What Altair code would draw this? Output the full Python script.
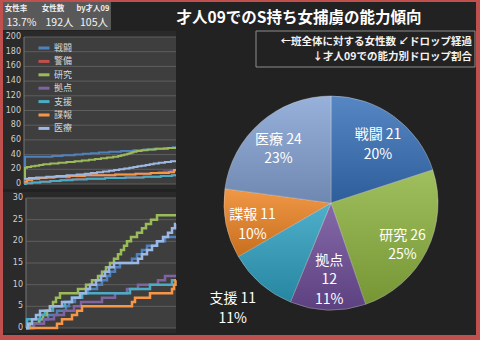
import altair as alt
import pandas as pd

JP = "Noto Sans CJK JP"

# ---------------- data ----------------
SERIES = ["戦闘", "警備", "研究", "拠点", "支援", "諜報", "医療"]
LINE_COLORS = ["#4f81bd", "#c0504d", "#9bbb59", "#8064a2", "#4bacc6", "#f79646", "#9db8e2"]

# upper panel: female count in the whole class (step points [x, count])
TOP_SENTOU = [[0, 0], [1, 37], [28, 38], [38, 39], [50, 40], [58, 41], [66, 42], [74, 43], [84, 44],
              [96, 45], [108, 46], [118, 47], [128, 48], [138, 49], [147, 50], [150, 50]]
TOP_KEIBI = [[0, 0], [2, 1], [8, 2], [16, 3], [26, 4], [36, 5], [42, 6], [52, 7], [80, 8], [100, 9],
             [118, 10], [135, 11], [146, 12], [150, 12]]
TOP_KENKYU = [[0, 10], [1, 22], [3, 23], [7, 24], [11, 25], [15, 26], [19, 27], [26, 28], [34, 29],
              [42, 30], [50, 31], [57, 32], [64, 33], [70, 34], [76, 35], [82, 36], [88, 37], [93, 38],
              [96, 39], [99, 40], [102, 41], [104, 42], [106, 43], [108, 44], [111, 45], [116, 46],
              [122, 47], [130, 48], [142, 49], [150, 49]]
TOP_KYOTEN = [[0, 3], [3, 5], [8, 7], [15, 8], [22, 9], [30, 10], [45, 11], [60, 12], [90, 13],
              [110, 14], [125, 15], [133, 16], [138, 17], [145, 18], [150, 18]]
TOP_SHIEN = [[0, 0], [2, 1], [8, 2], [16, 3], [26, 4], [36, 5], [48, 6], [62, 7], [80, 8], [100, 9],
             [118, 10], [135, 11], [146, 12], [150, 12]]
TOP_CHOHO = [[0, 3], [3, 5], [8, 7], [15, 8], [22, 9], [30, 10], [45, 11], [60, 12], [90, 13],
             [110, 14], [125, 15], [143, 16], [148, 19], [150, 19]]
TOP_IRYO = [[0, 7], [5, 8], [12, 9], [22, 10], [32, 11], [42, 12], [52, 13], [60, 14], [66, 15],
            [72, 16], [78, 17], [84, 18], [89, 19], [94, 20], [99, 21], [104, 22], [108, 23],
            [112, 24], [116, 25], [120, 26], [124, 27], [128, 28], [133, 29], [139, 30], [145, 31],
            [150, 31]]

# lower panel: drop progress at 才人09 (step points [x, count])
BOT_SENTOU = [[0, 0], [7, 1], [14, 2], [22, 3], [31, 4], [40, 5], [43, 6], [49, 7], [56, 8], [62, 9],
              [71, 10], [76, 11], [81, 12], [84, 13], [89, 14], [94, 15], [106, 16], [111, 17],
              [116, 18], [121, 19], [131, 20], [139, 21], [150, 21]]
BOT_KENKYU = [[0, 0], [4, 1], [13, 2], [17, 3], [21, 4], [24, 5], [27, 6], [30, 7], [34, 8], [52, 9],
              [60, 10], [66, 11], [72, 12], [76, 13], [80, 14], [84, 15], [88, 16], [92, 17],
              [95, 18], [98, 19], [101, 20], [105, 21], [111, 22], [116, 23], [120, 24], [125, 25],
              [131, 26], [150, 26]]
BOT_KYOTEN = [[0, 0], [8, 1], [18, 2], [28, 3], [38, 4], [48, 5], [55, 6], [76, 7], [89, 8],
              [101, 9], [112, 10], [132, 11], [139, 12], [150, 12]]
BOT_SHIEN = [[0, 0], [1, 2], [14, 3], [19, 4], [27, 5], [39, 6], [46, 7], [56, 8], [104, 9],
             [124, 10], [146, 11], [150, 11]]
BOT_CHOHO = [[0, 0], [31, 1], [36, 2], [46, 3], [51, 4], [56, 5], [106, 6], [109, 7], [124, 8],
             [146, 9], [148, 10], [149.5, 11], [150, 11]]
BOT_IRYO = [[0, 0], [2, 1], [6, 2], [10, 3], [14, 4], [24, 5], [36, 6], [46, 7], [54, 8], [60, 9],
            [64, 10], [70, 11], [75, 12], [79, 13], [83, 14], [88, 15], [112, 16], [116, 17],
            [121, 18], [126, 19], [131, 20], [137, 21], [142, 22], [146, 23], [149, 24], [150, 24]]

TOP_TICKS = [0, 20, 40, 60, 80, 100, 120, 140, 160, 180, 200]
BOT_TICKS = [0, 5, 10, 15, 20, 25, 30]

PIE_NAMES = ["戦闘", "研究", "拠点", "支援", "諜報", "医療"]
PIE_VALUES = [21, 26, 12, 11, 11, 24]
PIE_PCT = ["20%", "25%", "11%", "11%", "10%", "23%"]
PIE_COLORS = ["#3670b8", "#8db33f", "#6e4d98", "#2ea0c0", "#ee8424", "#84a2d4"]

INFO_HEADERS = ["女性率", "女性数", "by才人09"]
INFO_VALUES = ["13.7%", "192人", "105人"]
TITLE = "才人09でのS持ち女捕虜の能力傾向"
NOTE_LINES = ["←班全体に対する女性数 ↙ドロップ経過", "↓才人09での能力別ドロップ割合"]

# ---------------- tables ----------------
def long_table(named):
    rows = []
    for name, pts in named:
        for x, y in pts:
            rows.append({"series": name, "x": x, "y": y})
    return pd.DataFrame(rows)

top_df = long_table(list(zip(SERIES, [TOP_SENTOU, TOP_KEIBI, TOP_KENKYU, TOP_KYOTEN,
                                      TOP_SHIEN, TOP_CHOHO, TOP_IRYO])))
bot_series = ["戦闘", "研究", "拠点", "支援", "諜報", "医療"]
bot_df = long_table(list(zip(bot_series, [BOT_SENTOU, BOT_KENKYU, BOT_KYOTEN,
                                          BOT_SHIEN, BOT_CHOHO, BOT_IRYO])))

pie_df = pd.DataFrame({"name": PIE_NAMES, "value": PIE_VALUES, "pct": PIE_PCT,
                       "ord": list(range(len(PIE_NAMES)))})
# narrow slice gets a 3-line label, the teal slice is labelled outside
pie_df["label_in"] = ["" if n in ("支援", "拠点") else f"{n} {v}\n{p}"
                      for n, v, p in zip(PIE_NAMES, PIE_VALUES, PIE_PCT)]
pie_df["label_mid"] = [f"{n}\n{v}\n{p}" if n == "拠点" else ""
                       for n, v, p in zip(PIE_NAMES, PIE_VALUES, PIE_PCT)]
pie_df["label_out"] = [f"{n} {v}\n{p}" if n == "支援" else ""
                       for n, v, p in zip(PIE_NAMES, PIE_VALUES, PIE_PCT)]

one = pd.DataFrame({"k": [0]})


def box(x, x2, y, y2, **kw):
    return alt.Chart(one).mark_rect(**kw).encode(
        x=alt.value(x), x2=alt.value(x2), y=alt.value(y), y2=alt.value(y2))


def label(txt, x, y, **kw):
    return alt.Chart(pd.DataFrame({"t": [txt]})).mark_text(font=JP, **kw).encode(
        text="t:N", x=alt.value(x), y=alt.value(y))


# ---------------- line panels ----------------
color_scale = alt.Scale(domain=SERIES, range=LINE_COLORS)


def line_panel(df, names, ticks, ydom, yrange, xrange, legend, width):
    xs = alt.Scale(domain=[0, 150], range=xrange, nice=False, zero=False)
    ys = alt.Scale(domain=ydom, range=yrange, nice=False, zero=False)
    tick_df = pd.DataFrame({"v": ticks})
    grid = alt.Chart(tick_df).mark_rule(color="#5e5e5e", strokeWidth=1).encode(
        y=alt.Y("v:Q", scale=ys, axis=None),
        x=alt.value(xrange[0]), x2=alt.value(xrange[1]))
    labels = alt.Chart(tick_df).mark_text(align="right", baseline="middle", fontSize=8,
                                          font="DejaVu Sans", color="#d0d0d0").encode(
        y=alt.Y("v:Q", scale=ys, axis=None), text="v:Q", x=alt.value(xrange[0] - 3))
    axis_line = alt.Chart(one).mark_rule(color="#777777", strokeWidth=1).encode(
        x=alt.value(xrange[0]), y=alt.value(yrange[1]), y2=alt.value(yrange[0]))
    layers = [grid, labels, axis_line]
    for s in names:
        layers.append(
            alt.Chart(df).transform_filter(alt.datum.series == s)
            .mark_line(interpolate="step-after", strokeWidth=width)
            .encode(x=alt.X("x:Q", scale=xs, axis=None),
                    y=alt.Y("y:Q", scale=ys, axis=None),
                    color=alt.Color("series:N", scale=color_scale, legend=legend)))
    return alt.layer(*layers)


top_legend = alt.Legend(orient="none", legendX=37, legendY=41, title=None, symbolType="stroke",
                        symbolSize=121, symbolStrokeWidth=3, labelFontSize=9, labelFont=JP,
                        labelColor="#d9d9d9", rowPadding=0.4, labelOffset=3, padding=0)

top_panel = line_panel(top_df, SERIES, TOP_TICKS, [0, 200], [184, 37], [24, 176], top_legend, 2)
bot_panel = line_panel(bot_df, bot_series, BOT_TICKS, [0, 30], [328, 198], [26, 176], None, 2.5)

# ---------------- pie ----------------
CX, CY, R = 331, 203, 107
theta = alt.Theta("value:Q", stack=True)
order = alt.Order("ord:Q")
arcs = alt.Chart(pie_df).mark_arc(outerRadius=R, stroke="#dddddd", strokeWidth=0.8,
                                  strokeOpacity=0.5).encode(
    theta=theta, order=order,
    color=alt.Color("name:N", scale=alt.Scale(domain=PIE_NAMES, range=PIE_COLORS), legend=None),
    x=alt.value(CX), y=alt.value(CY))
shade = alt.Chart(pie_df).mark_arc(
    outerRadius=R,
    fill=alt.LinearGradient(gradient="linear", x1=0, y1=0, x2=0, y2=1,
                            stops=[alt.GradientStop(color="rgba(255,255,255,0.16)", offset=0),
                                   alt.GradientStop(color="rgba(0,0,0,0.16)", offset=1)])).encode(
    theta=theta, order=order, detail="name:N", x=alt.value(CX), y=alt.value(CY))


def pie_text(field, radius, **kw):
    return alt.Chart(pie_df).mark_text(radius=radius, fontSize=14, font=JP, color="white",
                                       lineBreak="\n", lineHeight=19.5, align="center",
                                       baseline="middle", **kw).encode(
        theta=theta, order=order, detail="name:N", text=f"{field}:N",
        x=alt.value(CX), y=alt.value(CY))


pie = alt.layer(arcs, shade,
                pie_text("label_in", 80, dy=-3),
                pie_text("label_mid", 58),
                pie_text("label_out", 128, dx=-14))

# ---------------- frame & texts ----------------
frame = [
    box(3, 476, 2, 335, color="#222222"),
    box(3, 176, 31, 189, color="#2a2a2a"),
    box(24, 176, 37, 184, color="#3e3e3e"),
    box(3, 176, 192, 333, color="#2a2a2a"),
    box(26, 176, 198, 328, color="#3e3e3e"),
    box(3, 111, 2, 30, color="#595959"),
    box(256, 475, 31, 67, fill="#222222", stroke="#8c8c8c", strokeWidth=1),
]
texts = []
for h, v, xh, xv in zip(INFO_HEADERS, INFO_VALUES, [16, 53, 93], [21.5, 59.5, 94]):
    texts.append(label(h, xh, 8.5, fontSize=7.5, fontWeight="bold", color="#f0f0f0",
                       align="center", baseline="middle"))
    texts.append(label(v, xv, 22.5, fontSize=10.5, color="#f4f4f4",
                       align="center", baseline="middle"))
texts.append(label(TITLE, 299, 18, fontSize=15.5, fontWeight="bold", color="white",
                   align="center", baseline="middle"))
for i, line in enumerate(NOTE_LINES):
    texts.append(label(line, 472, 42.3 + 14.4 * i, fontSize=10.5, fontWeight="bold",
                       color="#f4f4f4", align="right", baseline="middle"))

chart = alt.layer(*frame, top_panel, bot_panel, pie, *texts).resolve_scale(
    x="independent", y="independent", color="independent"
).properties(
    width=480, height=340, autosize=alt.AutoSizeParams(type="none"), padding=0,
    background="#c0504d"
).configure_view(stroke=None)

chart.save("out.html", embed_options={"renderer": "svg", "actions": False})
